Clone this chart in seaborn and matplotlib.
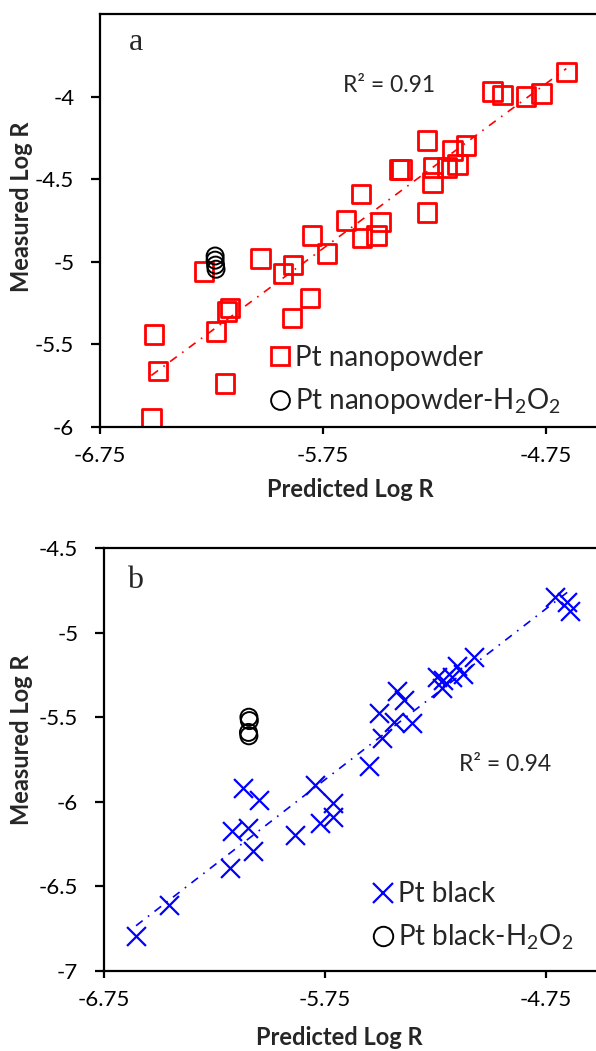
import numpy as np
import pandas as pd
import matplotlib
matplotlib.use("Agg")
import matplotlib.pyplot as plt
import seaborn as sns
from matplotlib.lines import Line2D

# ---------------- data ----------------
# panel a: Pt nanopowder
nano_pred = [-4.66, -4.772, -4.84, -4.947, -4.992, -5.284, -5.171, -5.109, -5.149, -5.194,
             -5.257, -5.41, -5.40, -5.261, -5.284, -5.58, -5.647, -5.494, -5.575, -5.512,
             -5.80, -5.732, -5.885, -5.93, -6.03, -6.284, -5.808, -5.889, -6.167, -6.18,
             -6.23, -6.508, -6.49, -6.19, -6.52]
nano_meas = [-3.85, -3.98, -4.00, -3.99, -3.97, -4.265, -4.325, -4.295, -4.41, -4.43,
             -4.43, -4.44, -4.44, -4.52, -4.70, -4.59, -4.75, -4.76, -4.855, -4.84,
             -4.84, -4.95, -5.02, -5.07, -4.98, -5.06, -5.22, -5.34, -5.28, -5.30,
             -5.42, -5.44, -5.66, -5.735, -5.95]
nano_h2o2_pred = [-6.234, -6.234, -6.232, -6.230]
nano_h2o2_meas = [-4.965, -4.99, -5.02, -5.045]

# panel b: Pt black
black_pred = [-6.605, -6.456, -6.18, -6.076, -6.17, -6.098, -6.12, -6.05, -5.886, -5.795,
              -5.773, -5.714, -5.714, -5.551, -5.492, -5.506, -5.424, -5.392, -5.438, -5.356,
              -5.22, -5.216, -5.243, -5.175, -5.153, -5.125, -5.076, -4.709, -4.655, -4.641]
black_meas = [-6.796, -6.61, -6.39, -6.29, -6.17, -6.157, -5.92, -5.99, -6.198, -5.90,
              -6.127, -6.01, -6.09, -5.79, -5.62, -5.476, -5.346, -5.40, -5.53, -5.535,
              -5.33, -5.28, -5.26, -5.26, -5.20, -5.245, -5.145, -4.79, -4.82, -4.87]
black_h2o2_pred = [-6.094, -6.092, -6.096, -6.094]
black_h2o2_meas = [-5.50, -5.52, -5.59, -5.61]

xticks = [-6.75, -5.75, -4.75]
xtick_labels = ["-6.75", "-5.75", "-4.75"]
yticks_a = [-6, -5.5, -5, -4.5, -4]
ytick_labels_a = ["-6", "-5.5", "-5", "-4.5", "-4"]
yticks_b = [-7, -6.5, -6, -5.5, -5, -4.5]
ytick_labels_b = ["-7", "-6.5", "-6", "-5.5", "-5", "-4.5"]
r2_a = "R\u00b2 = 0.91"
r2_b = "R\u00b2 = 0.94"

# ---------------- style ----------------
sns.set_theme(style="white")
plt.rcParams["font.family"] = ["Lato", "DejaVu Sans"]
plt.rcParams["mathtext.fontset"] = "custom"
plt.rcParams["mathtext.rm"] = "Lato"
plt.rcParams["mathtext.it"] = "Lato:italic"
plt.rcParams["mathtext.bf"] = "Lato:bold"

fig = plt.figure(figsize=(5.96, 10.51), dpi=100)
ax1 = fig.add_axes([100 / 596, (1051 - 427) / 1051, 502 / 596, 413 / 1051])
ax2 = fig.add_axes([104 / 596, (1051 - 971) / 1051, 497 / 596, 423 / 1051])

dashdot = (0, (5, 4, 1, 4))

def style_axes(ax, yticks, ylabels, ylim, ylab_xy, xlab_xy):
    ax.set_xlim(-6.75, -4.5)
    ax.set_ylim(*ylim)
    ax.set_xticks(xticks)
    ax.set_xticklabels(xtick_labels)
    ax.set_yticks(yticks)
    ax.set_yticklabels(ylabels)
    for s in ax.spines.values():
        s.set_color("black")
        s.set_linewidth(1.6)
    ax.tick_params(axis="both", direction="out", width=1.6, labelsize=16, colors="black",
                   bottom=True, left=True, top=False, right=False)
    ax.tick_params(axis="y", length=6.5, pad=12)
    ax.tick_params(axis="x", length=5, pad=9)
    ax.set_xlabel("Predicted Log R", fontsize=17, fontweight="bold")
    ax.set_ylabel("Measured Log R", fontsize=17, fontweight="bold")
    ax.yaxis.set_label_coords(*ylab_xy)
    ax.xaxis.set_label_coords(*xlab_xy)
    ax.grid(False)
    ax.set_facecolor("white")

# ---- panel a ----
df_a = pd.DataFrame({"pred": nano_pred, "meas": nano_meas})
sns.regplot(data=df_a, x="pred", y="meas", ax=ax1, scatter=False, ci=None, truncate=True,
            line_kws=dict(color="red", lw=1.2, linestyle=dashdot))
sns.scatterplot(data=df_a, x="pred", y="meas", ax=ax1, marker="s", s=180,
                facecolor="none", edgecolor="red", linewidth=2, legend=False)
sns.scatterplot(x=nano_h2o2_pred, y=nano_h2o2_meas, ax=ax1, marker="o", s=150,
                facecolor="none", edgecolor="black", linewidth=1.4, legend=False)
style_axes(ax1, yticks_a, ytick_labels_a, (-6, -3.5), (-0.133, 0.533), (0.498, -0.123))
ax1.text(0.072, 0.913, "a", transform=ax1.transAxes, fontsize=23, family="Liberation Serif",
         ha="center", va="baseline")
ax1.text(0.484, 0.828, r2_a, transform=ax1.transAxes, fontsize=16.5, ha="left", va="center")
h_a = [Line2D([], [], marker="s", ls="none", ms=13.5, mfc="none", mec="red", mew=2),
       Line2D([], [], marker="o", ls="none", ms=13.5, mfc="none", mec="black", mew=1.4)]
ax1.legend(h_a, ["Pt nanopowder", r"Pt nanopowder-$\mathregular{H_2O_2}$"],
           loc="center left", bbox_to_anchor=(0.339, 0.112), frameon=False,
           fontsize=20, handlelength=0.7, handletextpad=0.2, labelspacing=0.55,
           borderaxespad=0, borderpad=0)

# ---- panel b ----
df_b = pd.DataFrame({"pred": black_pred, "meas": black_meas})
sns.regplot(data=df_b, x="pred", y="meas", ax=ax2, scatter=False, ci=None, truncate=True,
            line_kws=dict(color="blue", lw=1.2, linestyle=dashdot))
sns.scatterplot(data=df_b, x="pred", y="meas", ax=ax2, marker="x", s=185,
                color="blue", linewidth=1.6, legend=False)
sns.scatterplot(x=black_h2o2_pred, y=black_h2o2_meas, ax=ax2, marker="o", s=150,
                facecolor="none", edgecolor="black", linewidth=1.4, legend=False)
style_axes(ax2, yticks_b, ytick_labels_b, (-7, -4.5), (-0.143, 0.546), (0.473, -0.130))
ax2.text(0.062, 0.905, "b", transform=ax2.transAxes, fontsize=23, family="Liberation Serif",
         ha="center", va="baseline")
ax2.text(0.714, 0.487, r2_b, transform=ax2.transAxes, fontsize=16.5, ha="left", va="center")
h_b = [Line2D([], [], marker="x", ls="none", ms=14, color="blue", mew=1.6),
       Line2D([], [], marker="o", ls="none", ms=14, mfc="none", mec="black", mew=1.4)]
ax2.legend(h_b, ["Pt black", r"Pt black-$\mathregular{H_2O_2}$"],
           loc="center left", bbox_to_anchor=(0.541, 0.128), frameon=False,
           fontsize=20, handlelength=0.7, handletextpad=0.2, labelspacing=0.55,
           borderaxespad=0, borderpad=0)

fig.savefig("out.png", dpi=100, facecolor="white")
